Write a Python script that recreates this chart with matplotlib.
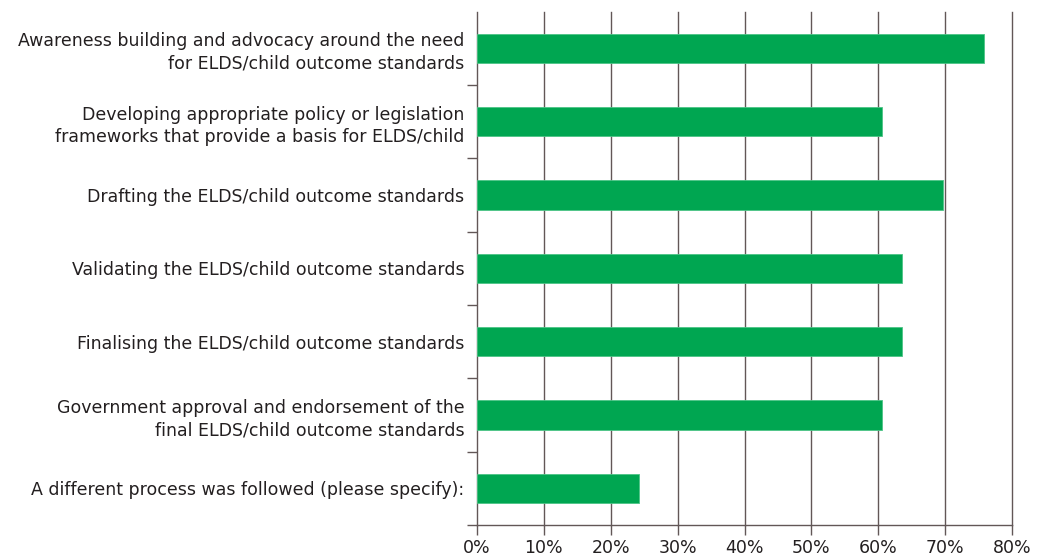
import numpy as np
import matplotlib.pyplot as plt

# Données
categories = [
    "Awareness building and advocacy around the need\nfor ELDS/child outcome standards",
    "Developing appropriate policy or legislation\nframeworks that provide a basis for ELDS/child",
    "Drafting the ELDS/child outcome standards",
    "Validating the ELDS/child outcome standards",
    "Finalising the ELDS/child outcome standards",
    "Government approval and endorsement of the\nfinal ELDS/child outcome standards",
    "A different process was followed (please specify):",
]
values = [75.8, 60.6, 69.7, 63.6, 63.6, 60.6, 24.2]
xticks = [0, 10, 20, 30, 40, 50, 60, 70, 80]

plt.rcParams['font.family'] = ['DejaVu Sans']
text_color = '#231f20'
grid_color = '#625757'

fig = plt.figure(figsize=(10.39, 5.57), dpi=100)
ax = fig.add_axes([477 / 1039, 1 - 525 / 557, (1012 - 477) / 1039, (525 - 11.7) / 557])

y = np.arange(len(categories))
ax.barh(y, values, height=0.4, color='#00a651', edgecolor='#4cc486', linewidth=0.6, zorder=3)

ax.set_xlim(0, 80)
ax.set_ylim(len(categories) - 0.5, -0.5)
ax.set_xticks(xticks)
ax.set_xticklabels([f'{t}%' for t in xticks], fontsize=12.5, color=text_color)
ax.set_yticks(y)
ax.set_yticklabels(categories, fontsize=12.5, color=text_color, linespacing=1.32)
ax.set_yticks(np.arange(len(categories)) + 0.5, minor=True)

ax.tick_params(axis='y', which='major', length=0, pad=9)
ax.tick_params(axis='y', which='minor', length=7, width=1, color=grid_color)
ax.tick_params(axis='x', length=7, width=1, color=grid_color, pad=3)

# Grille verticale
for t in xticks[1:]:
    ax.axvline(t, color=grid_color, linewidth=1, zorder=1, clip_on=False)

for s in ['top', 'right']:
    ax.spines[s].set_visible(False)
for s in ['left', 'bottom']:
    ax.spines[s].set_color(grid_color)
    ax.spines[s].set_linewidth(1)

fig.savefig('out.png', dpi=100)
